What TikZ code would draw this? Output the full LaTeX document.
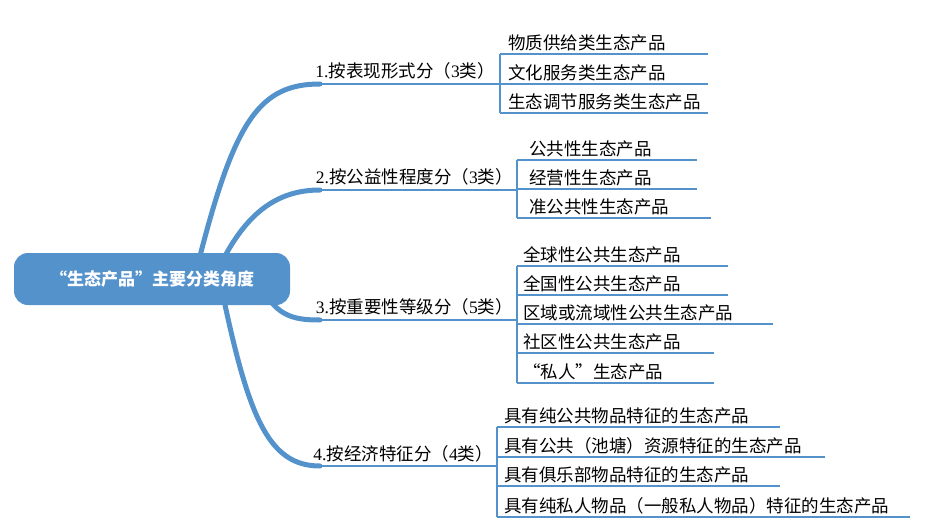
\documentclass[tikz,border=0pt]{standalone}
\usepackage{fontspec}
\setmainfont{Liberation Serif}
\newfontfamily\cjk{Noto Sans CJK SC}
\definecolor{mapblue}{RGB}{84,146,204}

\begin{document}
\begin{tikzpicture}[x=1pt,y=-1pt,
  leaf/.style={anchor=south west,inner sep=2pt,font=\cjk\fontsize{17.5}{17.5}\selectfont},
  cat/.style={anchor=south east,inner sep=2pt,font=\fontsize{17.5}{17.5}\selectfont},
  uline/.style={mapblue,line width=1.6pt},
  branch/.style={mapblue,line width=5pt,line cap=round}]
\useasboundingbox (0,0) rectangle (928,532);

\node[fill=mapblue,rounded corners=14pt,minimum width=276pt,minimum height=52pt,
  text=white,font=\cjk\bfseries\fontsize{17}{17}\selectfont] (root) at (152,279) {“生态产品”主要分类角度};

% categories
\node[cat] (c1) at (497,81) {1.{\cjk 按表现形式分（}3{\cjk 类）}};
\node[cat] (c2) at (515,187) {2.{\cjk 按公益性程度分（}3{\cjk 类）}};
\node[cat] (c3) at (515,317) {3.{\cjk 按重要性等级分（}5{\cjk 类）}};
\node[cat] (c4) at (495,464) {4.{\cjk 按经济特征分（}4{\cjk 类）}};

\draw[branch] (200,256) .. controls (235,120) and (260,84) .. (320,84);
\draw[branch] (225,256) .. controls (250,210) and (280,190) .. (320,190);
\draw[branch] (272,303) .. controls (285,318) and (300,320) .. (320,320);
\draw[branch] (225,305) .. controls (250,420) and (270,466) .. (320,466);
\draw[uline] (315,84) -- (500,84);
\draw[uline] (315,190) -- (517,190);
\draw[uline] (315,320) -- (517,320);
\draw[uline] (315,466) -- (497,466);

% leaves
\node[leaf] (l11) at (506,53) {物质供给类生态产品};
\node[leaf] (l12) at (506,83) {文化服务类生态产品};
\node[leaf] (l13) at (506,112) {生态调节服务类生态产品};
\draw[uline] (500,54) -- (708,54) (500,84) -- (708,84) (500,113) -- (708,113) (500,54) -- (500,113);

\node[leaf] (l21) at (527,159) {公共性生态产品};
\node[leaf] (l22) at (527,188) {经营性生态产品};
\node[leaf] (l23) at (527,217) {准公共性生态产品};
\draw[uline] (517,160) -- (697,160) (517,189) -- (697,189) (517,218) -- (711,218) (517,160) -- (517,218);

\node[leaf] (l31) at (521,265) {全球性公共生态产品};
\node[leaf] (l32) at (521,294) {全国性公共生态产品};
\node[leaf] (l33) at (521,323) {区域或流域性公共生态产品};
\node[leaf] (l34) at (521,352) {社区性公共生态产品};
\node[leaf] (l35) at (521,382) {“私人”生态产品};
\draw[uline] (517,266) -- (728,266) (517,295) -- (728,295) (517,324) -- (773,324)
  (517,353) -- (714,353) (517,383) -- (714,383) (517,266) -- (517,383);

\node[leaf] (l41) at (502,426) {具有纯公共物品特征的生态产品};
\node[leaf] (l42) at (502,456) {具有公共（池塘）资源特征的生态产品};
\node[leaf] (l43) at (502,485) {具有俱乐部物品特征的生态产品};
\node[leaf] (l44) at (502,516) {具有纯私人物品（一般私人物品）特征的生态产品};
\draw[uline] (497,427) -- (780,427) (497,457) -- (825,457) (497,486) -- (780,486)
  (497,517) -- (910,517) (497,427) -- (497,517);
\end{tikzpicture}
\end{document}
